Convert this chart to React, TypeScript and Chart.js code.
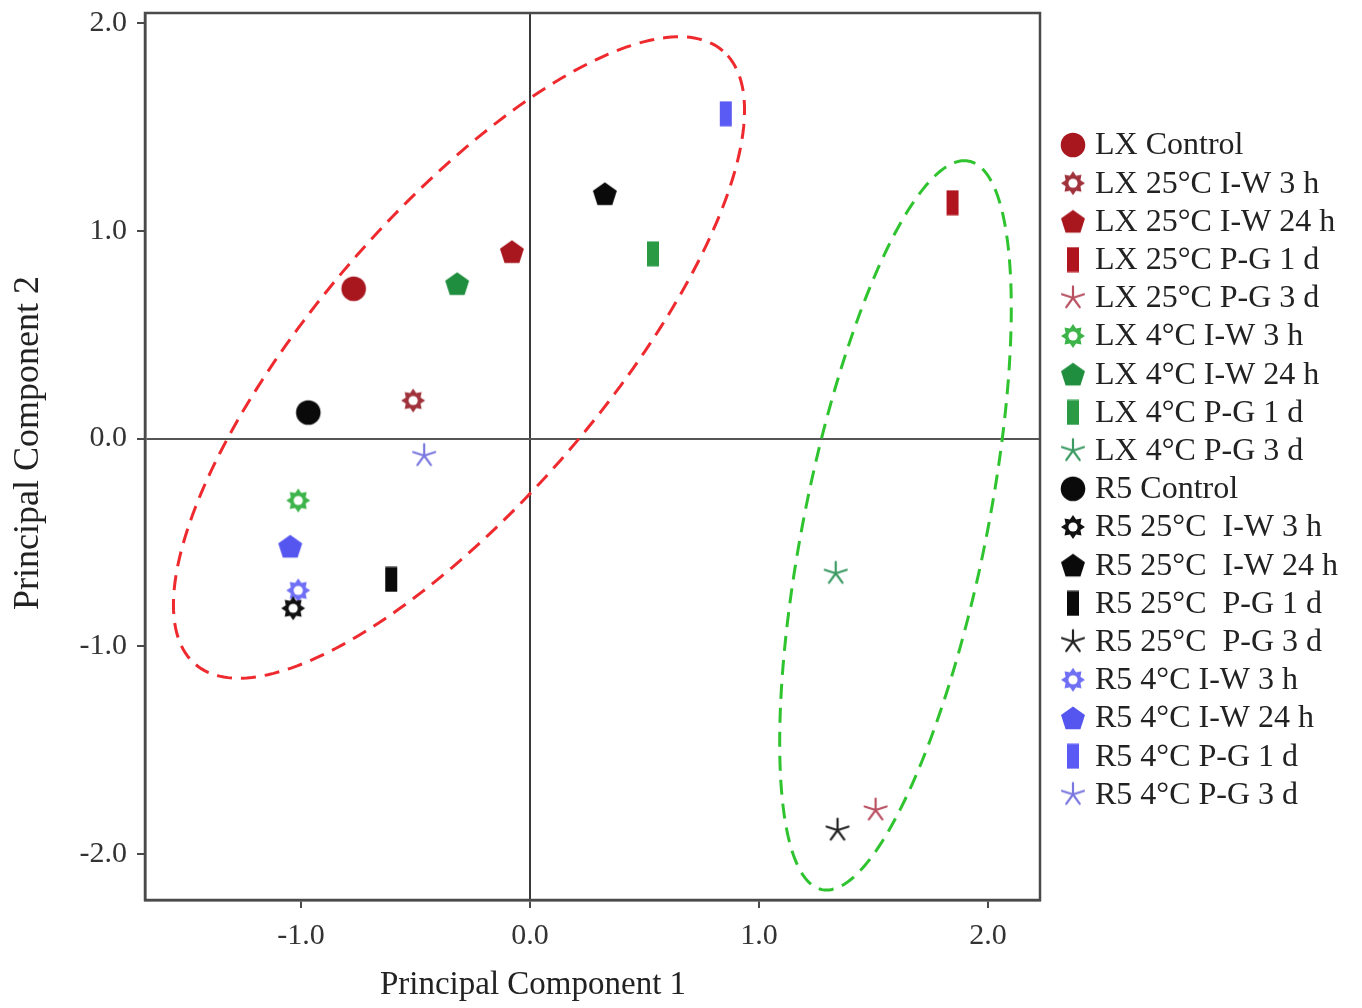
import React, { useEffect, useRef } from "react";
import { Chart, registerables } from "chart.js";

Chart.register(...registerables);

// ---------- data ----------
const seriesLabels = [
  "LX Control",
  "LX 25°C I-W 3 h",
  "LX 25°C I-W 24 h",
  "LX 25°C P-G 1 d",
  "LX 25°C P-G 3 d",
  "LX 4°C I-W 3 h",
  "LX 4°C I-W 24 h",
  "LX 4°C P-G 1 d",
  "LX 4°C P-G 3 d",
  "R5 Control",
  "R5 25°C  I-W 3 h",
  "R5 25°C  I-W 24 h",
  "R5 25°C  P-G 1 d",
  "R5 25°C  P-G 3 d",
  "R5 4°C I-W 3 h",
  "R5 4°C I-W 24 h",
  "R5 4°C P-G 1 d",
  "R5 4°C P-G 3 d",
];

const pc1Values = [
  -0.77, -0.51, -0.079, 1.845, 1.509, -1.012, -0.318, 0.537, 1.335,
  -0.968, -1.034, 0.327, -0.606, 1.343, -1.012, -1.047, 0.855, -0.462,
];

const pc2Values = [
  0.721, 0.183, 0.899, 1.135, -1.788, -0.298, 0.745, 0.889, -0.649,
  0.125, -0.817, 1.178, -0.678, -1.885, -0.731, -0.519, 1.563, -0.082,
];

const markerShapes = [
  "circle", "sunburst", "pentagon", "bar", "asterisk",
  "sunburst", "pentagon", "bar", "asterisk",
  "circle", "sunburst", "pentagon", "bar", "asterisk",
  "sunburst", "pentagon", "bar", "asterisk",
];

const markerColors = [
  "#a8161e", "#a0323c", "#a8161e", "#b0141e", "#b85060",
  "#3cb44a", "#1f8f3f", "#2a9a45", "#3a9a62",
  "#0a0a0a", "#111111", "#0a0a0a", "#0a0a0a", "#222222",
  "#6f6ff5", "#5555f0", "#5a5af5", "#7a78e0",
];

const xTickValues = [-1, 0, 1, 2];
const yTickValues = [-2, -1, 0, 1, 2];
const xRange = [-1.681, 2.227];
const yRange = [-2.221, 2.048];

const xTitle = "Principal Component 1";
const yTitle = "Principal Component 2";

// confidence ellipses: centre + two conjugate half-axis vectors (data units)
const ellipseCentres = [
  [-0.31, 0.39],
  [1.596, -0.418],
];
const ellipseAxisU = [
  [1.152, 1.476],
  [0.3206, 1.753],
];
const ellipseAxisV = [
  [-0.477, 0.452],
  [-0.391, 0.087],
];
const ellipseColors = ["#ee2a2f", "#2fc42f"];

// ---------- markers ----------
function makeMarker(shape: string, color: string): HTMLCanvasElement {
  const c = document.createElement("canvas");
  let w = 28;
  let h = 28;
  if (shape === "bar") {
    w = 14;
    h = 26;
  }
  c.width = w;
  c.height = h;
  const g = c.getContext("2d") as CanvasRenderingContext2D;
  const cx = w / 2;
  const cy = h / 2;
  g.fillStyle = color;
  g.strokeStyle = color;
  if (shape === "circle") {
    g.beginPath();
    g.arc(cx, cy, 12.3, 0, Math.PI * 2);
    g.fill();
  } else if (shape === "pentagon") {
    g.beginPath();
    for (let k = 0; k < 5; k++) {
      const a = -Math.PI / 2 + (k * 2 * Math.PI) / 5;
      const px = cx + 12.6 * Math.cos(a);
      const py = cy + 1 + 12.6 * Math.sin(a);
      if (k === 0) g.moveTo(px, py);
      else g.lineTo(px, py);
    }
    g.closePath();
    g.fill();
  } else if (shape === "bar") {
    g.fillRect(1, 0.5, 12, 25);
  } else if (shape === "sunburst") {
    g.beginPath();
    for (let k = 0; k < 16; k++) {
      const a = -Math.PI / 2 + (k * Math.PI) / 8;
      const r = k % 2 === 0 ? 12 : 8;
      const px = cx + r * Math.cos(a);
      const py = cy + r * Math.sin(a);
      if (k === 0) g.moveTo(px, py);
      else g.lineTo(px, py);
    }
    g.closePath();
    g.fill();
    g.globalCompositeOperation = "destination-out";
    g.beginPath();
    g.arc(cx, cy, 4.6, 0, Math.PI * 2);
    g.fill();
    g.globalCompositeOperation = "source-over";
  } else if (shape === "asterisk") {
    g.lineWidth = 2.2;
    g.lineCap = "round";
    g.beginPath();
    for (let k = 0; k < 5; k++) {
      const a = -Math.PI / 2 + (k * 2 * Math.PI) / 5;
      g.moveTo(cx, cy);
      g.lineTo(cx + 11.5 * Math.cos(a), cy + 11.5 * Math.sin(a));
    }
    g.stroke();
  }
  return c;
}

export default function App() {
  const canvasRef = useRef<HTMLCanvasElement | null>(null);

  useEffect(() => {
    const canvas = canvasRef.current;
    if (!canvas) return;
    const markers = markerShapes.map((s, i) => makeMarker(s, markerColors[i]));

    const datasets = seriesLabels.map((label, i) => ({
      label,
      data: [{ x: pc1Values[i], y: pc2Values[i] }],
      pointStyle: markers[i] as any,
      pointRadius: 12,
      pointHoverRadius: 12,
      backgroundColor: markerColors[i],
      borderColor: markerColors[i],
    }));

    const serif = "'Liberation Serif', 'Times New Roman', serif";

    const ellipsePlugin = {
      id: "ellipses",
      beforeDatasetsDraw(chart: any) {
        const { ctx, chartArea, scales } = chart;
        const xs = scales.x;
        const ys = scales.y;
        ctx.save();
        ctx.beginPath();
        ctx.rect(chartArea.left, chartArea.top, chartArea.right - chartArea.left, chartArea.bottom - chartArea.top);
        ctx.clip();
        ellipseCentres.forEach((c, e) => {
          const u = ellipseAxisU[e];
          const v = ellipseAxisV[e];
          ctx.beginPath();
          const n = 240;
          for (let k = 0; k <= n; k++) {
            const t = (k / n) * Math.PI * 2;
            const dx = c[0] + u[0] * Math.cos(t) + v[0] * Math.sin(t);
            const dy = c[1] + u[1] * Math.cos(t) + v[1] * Math.sin(t);
            const px = xs.getPixelForValue(dx);
            const py = ys.getPixelForValue(dy);
            if (k === 0) ctx.moveTo(px, py);
            else ctx.lineTo(px, py);
          }
          ctx.closePath();
          ctx.setLineDash([15, 9]);
          ctx.lineWidth = 3;
          ctx.strokeStyle = ellipseColors[e];
          ctx.stroke();
        });
        ctx.restore();
      },
      afterDatasetsDraw(chart: any) {
        const { ctx, chartArea } = chart;
        ctx.save();
        ctx.lineWidth = 2.5;
        ctx.strokeStyle = "#4a4a4a";
        ctx.strokeRect(chartArea.left, chartArea.top, chartArea.right - chartArea.left, chartArea.bottom - chartArea.top);
        ctx.restore();
      },
      afterDraw(chart: any) {
        const { ctx } = chart;
        ctx.save();
        // axis titles
        ctx.fillStyle = "#222";
        ctx.font = `33px ${serif}`;
        ctx.textAlign = "center";
        ctx.textBaseline = "middle";
        ctx.fillText(xTitle, 533, 985);
        ctx.save();
        ctx.font = `36px ${serif}`;
        ctx.translate(29, 443);
        ctx.rotate(-Math.PI / 2);
        ctx.fillText(yTitle, 0, 0);
        ctx.restore();
        // legend
        ctx.font = `32px ${serif}`;
        ctx.textAlign = "left";
        const top = 145;
        const step = 38.2;
        seriesLabels.forEach((label, i) => {
          const y = top + i * step;
          const m = markers[i];
          ctx.drawImage(m, 1073 - m.width / 2, y - m.height / 2);
          ctx.fillStyle = "#222";
          ctx.fillText(label, 1095, y + 1);
        });
        ctx.restore();
      },
    };

    const chart = new Chart(canvas, {
      type: "scatter",
      data: { datasets },
      options: {
        animation: false,
        responsive: false,
        events: [],
        layout: { padding: { top: 12, right: 322, left: 0, bottom: 0 } },
        plugins: {
          legend: { display: false },
          tooltip: { enabled: false },
          title: { display: false },
        },
        scales: {
          x: {
            type: "linear",
            min: xRange[0],
            max: xRange[1],
            afterBuildTicks: (s: any) => {
              s.ticks = xTickValues.map((v) => ({ value: v }));
            },
            afterFit: (s: any) => {
              s.height = 108;
              s.paddingLeft = 0;
              s.paddingRight = 0;
              s.paddingTop = 0;
              s.paddingBottom = 0;
            },
            grid: {
              color: (c: any) => (c.tick && c.tick.value === 0 ? "#3a3a3a" : "rgba(0,0,0,0)"),
              lineWidth: 2,
              tickColor: "#4a4a4a",
              tickLength: 8,
              tickWidth: 2,
            },
            border: { display: true, color: "#4a4a4a", width: 2.5 },
            ticks: {
              autoSkip: false,
              maxRotation: 0,
              padding: 10,
              color: "#333",
              font: { family: serif, size: 30 },
              callback: (v: any) => Number(v).toFixed(1),
            },
          },
          y: {
            type: "linear",
            min: yRange[0],
            max: yRange[1],
            afterBuildTicks: (s: any) => {
              s.ticks = yTickValues.map((v) => ({ value: v }));
            },
            afterFit: (s: any) => {
              s.width = 145;
              s.paddingLeft = 0;
              s.paddingRight = 0;
              s.paddingTop = 0;
              s.paddingBottom = 0;
            },
            grid: {
              color: (c: any) => (c.tick && c.tick.value === 0 ? "#555" : "rgba(0,0,0,0)"),
              lineWidth: 2,
              tickColor: "#4a4a4a",
              tickLength: 8,
              tickWidth: 2,
            },
            border: { display: true, color: "#4a4a4a", width: 2.5 },
            ticks: {
              autoSkip: false,
              padding: 10,
              color: "#333",
              font: { family: serif, size: 30 },
              callback: (v: any) => Number(v).toFixed(1),
            },
          },
        },
      },
      plugins: [ellipsePlugin],
    } as any);

    return () => {
      chart.destroy();
    };
  }, []);

  return (
    <div style={{ position: "absolute", left: 0, top: 0, width: 1362, height: 1008, background: "#fff" }}>
      <canvas ref={canvasRef} width={1362} height={1008} style={{ width: 1362, height: 1008 }} />
    </div>
  );
}
